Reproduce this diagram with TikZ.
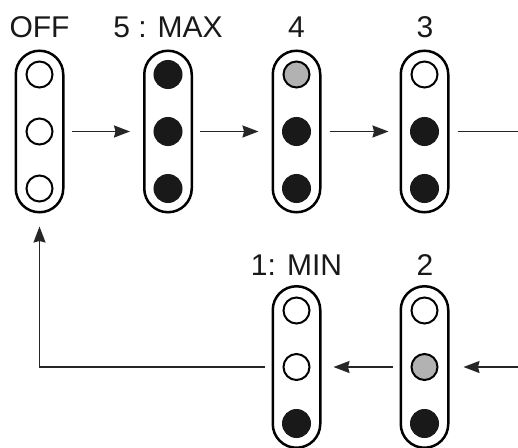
\documentclass[tikz,border=0pt]{standalone}
\usepackage{fontspec}
\setmainfont{Liberation Sans}
\usetikzlibrary{arrows.meta}
\begin{document}
\begin{tikzpicture}[x=1pt,y=-1pt,
  pill/.style={draw=black, line width=2.5pt, rounded corners=23.75pt, minimum width=47.5pt, minimum height=161.5pt, inner sep=0pt},
  lamp/.style={circle, draw=black, line width=2pt, minimum size=26pt, inner sep=0pt},
  lampoff/.style={lamp, fill=white},
  lampon/.style={lamp, draw=black!90, fill=black!90, minimum size=27pt},
  lampdim/.style={lamp, fill=black!30},
  lbl/.style={anchor=base, font=\fontsize{30}{31}\selectfont, text=black!90, inner sep=0pt},
  arr/.style={draw=black!85, line width=1.6pt, -{Stealth[length=16pt,width=12pt,inset=1.5pt]}},
  ln/.style={draw=black!85, line width=1.6pt}]
\useasboundingbox (0,0) rectangle (518,447);
\fill[white] (0,0) rectangle (518,447);

% top row
\node[pill] (p0) at (39.5,131.5) {};
\node[pill] (p1) at (168,131.5) {};
\node[pill] (p2) at (296.5,131.5) {};
\node[pill] (p3) at (424.5,131.5) {};
% bottom row
\node[pill] (p4) at (296.5,367) {};
\node[pill] (p5) at (424.5,367) {};

% lamps: OFF
\node[lampoff] (a1) at (39.5,74.5) {};
\node[lampoff] (a2) at (39.5,131.5) {};
\node[lampoff] (a3) at (39.5,188.5) {};
% 5 : MAX
\node[lampon] (b1) at (168,74.5) {};
\node[lampon] (b2) at (168,131.5) {};
\node[lampon] (b3) at (168,188.5) {};
% 4
\node[lampdim] (c1) at (296.5,74.5) {};
\node[lampon] (c2) at (296.5,131.5) {};
\node[lampon] (c3) at (296.5,188.5) {};
% 3
\node[lampoff] (d1) at (424.5,74.5) {};
\node[lampon] (d2) at (424.5,131.5) {};
\node[lampon] (d3) at (424.5,188.5) {};
% 1: MIN
\node[lampoff] (e1) at (296.5,310.5) {};
\node[lampoff] (e2) at (296.5,367) {};
\node[lampon] (e3) at (296.5,423.5) {};
% 2
\node[lampoff] (f1) at (424.5,310.5) {};
\node[lampdim] (f2) at (424.5,367) {};
\node[lampon] (f3) at (424.5,423.5) {};

% labels
\node[lbl] (t0) at (39.5,37.5) {OFF};
\node[lbl] (t1) at (168,37.5) {5 : MAX};
\node[lbl] (t2) at (296.5,37.5) {4};
\node[lbl] (t3) at (425,37.5) {3};
\node[lbl] (t4) at (296.5,275) {1: MIN};
\node[lbl] (t5) at (425,275) {2};

% connectors
\draw[arr] ([xshift=7pt]p0.east) -- ([xshift=-13pt]p1.west);
\draw[arr] ([xshift=7pt]p1.east) -- ([xshift=-13pt]p2.west);
\draw[arr] ([xshift=8pt]p2.east) -- ([xshift=-11pt]p3.west);
\coordinate (rt) at (518,131.5);
\draw[ln] ([xshift=8pt]p3.east) -- (rt);
\coordinate (rb) at (518,367);
\draw[arr] (rb) -- ([xshift=14pt]p5.east);
\draw[arr] ([xshift=-7pt]p5.west) -- ([xshift=12pt]p4.east);
\draw[arr] ([xshift=-7pt]p4.west) -| ([yshift=-13pt]p0.south);
\end{tikzpicture}
\end{document}
